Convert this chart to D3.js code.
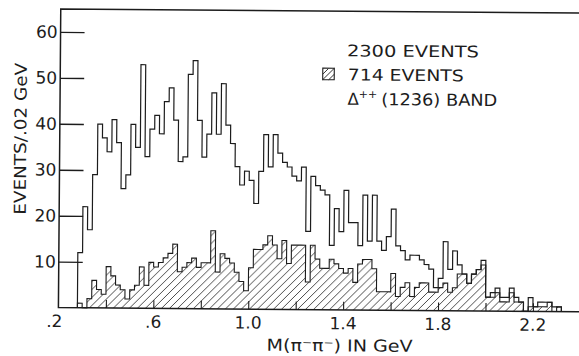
<!DOCTYPE html>
<html>
<head>
<meta charset="utf-8">
<script src="https://cdn.jsdelivr.net/npm/d3@7"></script>
<style>
  body { margin: 0; background: #fff; }
  svg { display: block; }
  text { font-family: "DejaVu Sans", "Liberation Sans", sans-serif; fill: #1c1c1c; }
</style>
</head>
<body>
<svg id="chart" width="579" height="356"></svg>
<script>
// Histogram binning: 0.02 GeV bins starting at 0.28 GeV
const binStart = 0.28;
const binWidth = 0.02;

// All events (2300) per bin
const allEvents = [
  12, 22, 17, 29, 40, 37, 34, 41, 36, 26,
  29, 40, 35, 53, 33, 39, 42, 38, 45, 48,
  41, 32, 33, 51, 54, 41, 33, 38, 47, 38,
  49, 40, 36, 31, 27, 30, 28, 23, 30, 38,
  31, 38, 34, 32, 31, 29, 28, 31, 17, 29,
  27, 26, 25, 14, 22, 17, 26, 19, 19, 14,
  25, 15, 25, 15, 13, 16, 22, 14, 13, 11,
  12, 12, 11, 10, 9, 5, 7, 15, 9, 13,
  10, 8, 6, 8, 9, 11, 3, 4, 5, 3,
  3, 5, 3, 2, 0, 3, 1, 2, 2, 2,
  1, 1
];

// Events in the Delta++(1236) band (714) per bin
const deltaBand = [
  1, 0, 2, 6, 4, 3, 9, 7, 5, 4,
  2, 4, 5, 9, 5, 10, 9, 10, 11, 12,
  14, 8, 9, 10, 11, 9, 10, 10, 17, 8,
  12, 11, 10, 8, 6, 4, 9, 13, 13, 14,
  16, 14, 11, 15, 10, 14, 14, 14, 6, 14,
  11, 9, 9, 11, 10, 9, 8, 9, 6, 10,
  11, 11, 9, 4, 4, 4, 8, 3, 5, 6,
  3, 5, 6, 6, 4, 4, 5, 6, 4, 5,
  8, 8, 6, 8, 9, 10, 3, 3, 4, 2,
  2, 4, 2, 2, 0, 1, 1, 1, 1, 2,
  0, 1
];

const xTickValues = [0.4, 0.6, 0.8, 1.0, 1.2, 1.4, 1.6, 1.8, 2.0, 2.2];
const xLabelValues = [0.2, 0.6, 1.0, 1.4, 1.8, 2.2];
const xLabelText = [".2", ".6", "1.0", "1.4", "1.8", "2.2"];
const yTickValues = [10, 20, 30, 40, 50, 60];

const legendTotal = "2300 EVENTS";
const legendBand = "714 EVENTS";
const xTitle = "M(\u03C0\u207B\u03C0\u207B)  IN GeV";
const yTitle = "EVENTS/.02 GeV";

const ink = "#1c1c1c";
const svg = d3.select("#chart");

// Hatch pattern for the Delta band histogram
const defs = svg.append("defs");
const pat = defs.append("pattern")
  .attr("id", "hatch")
  .attr("patternUnits", "userSpaceOnUse")
  .attr("width", 8).attr("height", 8);
pat.append("path")
  .attr("d", "M0,8 L8,0 M-2,2 L2,-2 M6,10 L10,6")
  .attr("stroke", ink).attr("stroke-width", 0.8);

const g = svg.append("g").attr("transform", "rotate(0.45 300 170)");

const x = d3.scaleLinear().domain([0.2, 2.2]).range([59.5, 534]);
const y = d3.scaleLinear().domain([0, 65]).range([309.5, 10.8]);
const xRight = 585;

function stepPath(values) {
  const pts = [[x(binStart), y(0)]];
  values.forEach((v, i) => {
    const x0 = binStart + i * binWidth;
    pts.push([x(x0), y(v)], [x(x0 + binWidth), y(v)]);
  });
  pts.push([x(binStart + values.length * binWidth), y(0)]);
  return d3.line()(pts);
}

// Hatched Delta band histogram
g.append("path")
  .attr("d", stepPath(deltaBand))
  .attr("fill", "url(#hatch)")
  .attr("stroke", ink).attr("stroke-width", 1.1);

// Open histogram of all events
g.append("path")
  .attr("d", stepPath(allEvents))
  .attr("fill", "none")
  .attr("stroke", ink).attr("stroke-width", 1.2);

// Frame: left axis, top line, baseline
g.append("path")
  .attr("d", `M${xRight},${y(65)} L${x(0.2)},${y(65)} L${x(0.2)},${y(0)} L${xRight},${y(0)}`)
  .attr("fill", "none").attr("stroke", ink).attr("stroke-width", 1.5);

// Y axis: ticks point inward, labels outside
const yAxis = d3.axisLeft(y)
  .tickValues(yTickValues)
  .tickSizeInner(-24).tickSizeOuter(0).tickPadding(3)
  .tickFormat(d3.format("d"));
const yg = g.append("g").attr("transform", `translate(${x(0.2)},0)`).call(yAxis);
yg.select(".domain").remove();
yg.selectAll(".tick line").attr("stroke", ink).attr("stroke-width", 1.4);
yg.selectAll(".tick text")
  .attr("font-size", 17).attr("fill", ink)
  .style("font-family", "'DejaVu Sans', sans-serif");

// X axis: short inward ticks, labels every 0.4
const xAxis = d3.axisBottom(x)
  .tickValues(xTickValues)
  .tickSizeInner(-8).tickSizeOuter(0).tickPadding(0)
  .tickFormat("");
const xg = g.append("g").attr("transform", `translate(0,${y(0)})`).call(xAxis);
xg.select(".domain").remove();
xg.selectAll(".tick line").attr("stroke", ink).attr("stroke-width", 1.1);

g.append("g").selectAll("text")
  .data(xLabelValues)
  .join("text")
  .attr("x", (d, i) => x(d) - (i === 0 ? 4 : 0))
  .attr("y", y(0) + 19.5)
  .attr("text-anchor", "middle")
  .attr("font-size", 17)
  .text((d, i) => xLabelText[i]);

// Axis titles
g.append("text")
  .attr("x", 268).attr("y", 351)
  .attr("font-size", 16.5)
  .attr("textLength", 146).attr("lengthAdjust", "spacingAndGlyphs")
  .text(xTitle);

g.append("text")
  .attr("transform", "translate(26,141) rotate(-90)")
  .attr("text-anchor", "middle")
  .attr("font-size", 16.5)
  .attr("textLength", 152).attr("lengthAdjust", "spacingAndGlyphs")
  .text(yTitle);

// Legend
const leg = g.append("g");
leg.append("text")
  .attr("x", 346).attr("y", 56)
  .attr("font-size", 16)
  .attr("textLength", 132).attr("lengthAdjust", "spacingAndGlyphs")
  .text(legendTotal);
leg.append("rect")
  .attr("x", 322).attr("y", 68).attr("width", 11.5).attr("height", 11.5)
  .attr("fill", "none").attr("stroke", ink).attr("stroke-width", 1.1);
leg.append("path")
  .attr("d", "M322,79.5 L333.5,68 M322,74 L327.5,68.5 M328,79.5 L333.5,74")
  .attr("stroke", ink).attr("stroke-width", 0.9);
leg.append("text")
  .attr("x", 347).attr("y", 80)
  .attr("font-size", 16)
  .attr("textLength", 116).attr("lengthAdjust", "spacingAndGlyphs")
  .text(legendBand);
const band = leg.append("text")
  .attr("x", 347).attr("y", 104.5)
  .attr("font-size", 16.5);
band.append("tspan").text("\u0394");
band.append("tspan").attr("font-size", 11).attr("dy", -7).text("++");
band.append("tspan").attr("dy", 7).attr("dx", 4)
  .attr("textLength", 116).attr("lengthAdjust", "spacingAndGlyphs")
  .text("(1236) BAND");
</script>
</body>
</html>
